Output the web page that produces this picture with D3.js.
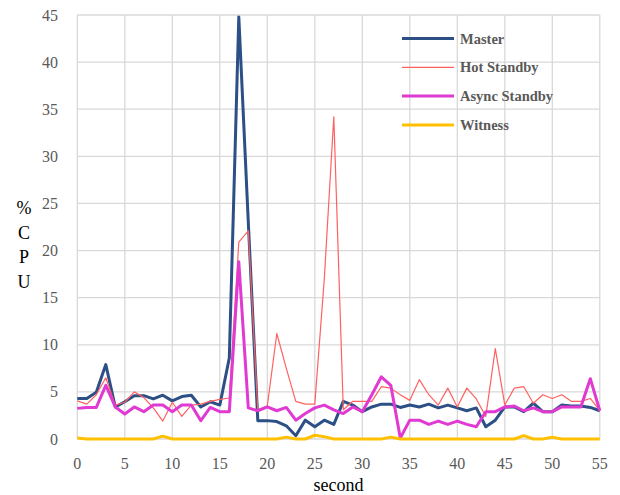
<html>
<head>
<meta charset="utf-8">
<script src="https://d3js.org/d3.v7.min.js"></script>
<style>
  body { margin: 0; background: #fff; }
  text { font-family: "Liberation Serif", "Times New Roman", serif; }
</style>
</head>
<body>
<svg id="chart" width="620" height="495"></svg>
<script>
// seconds 0..55
var seconds = d3.range(0, 56);
var xTicks = [0, 5, 10, 15, 20, 25, 30, 35, 40, 45, 50, 55];
var yTicks = [0, 5, 10, 15, 20, 25, 30, 35, 40, 45];

var master = [4.3, 4.3, 4.95, 7.9, 3.4, 3.95, 4.6, 4.6, 4.25, 4.65,
              4.05, 4.5, 4.65, 3.4, 3.95, 3.6, 8.6, 44.8, 23, 1.95,
              1.95, 1.85, 1.4, 0.35, 2.0, 1.3, 2.0, 1.55, 4.0, 3.6,
              2.9, 3.4, 3.7, 3.7, 3.35, 3.6, 3.4, 3.7, 3.3, 3.6,
              3.3, 3.0, 3.3, 1.3, 2.0, 3.4, 3.4, 2.9, 3.8, 2.9,
              2.9, 3.6, 3.5, 3.5, 3.35, 3.0];
var hotStandby = [4.05, 3.7, 4.7, 6.5, 3.6, 3.9, 5.0, 4.4, 3.3, 1.9,
                  3.9, 2.4, 3.6, 3.7, 4.0, 4.2, 4.35, 20.9, 22.1, 3.1,
                  3.5, 11.2, 7.5, 4.0, 3.7, 3.7, 17, 34.2, 3.1, 4.0,
                  4.0, 4.0, 5.55, 5.4, 4.7, 4.1, 6.3, 4.7, 3.6, 5.4,
                  3.4, 5.4, 4.25, 2.4, 9.6, 3.6, 5.4, 5.55, 3.8, 4.7,
                  4.3, 4.7, 4.0, 4.0, 4.3, 3.0];
var asyncStandby = [3.25, 3.35, 3.35, 5.7, 3.4, 2.65, 3.4, 2.9, 3.6, 3.6,
                    2.9, 3.6, 3.6, 1.95, 3.35, 2.9, 2.9, 18.8, 3.3, 3.0,
                    3.4, 3.0, 3.35, 2.0, 2.7, 3.3, 3.6, 3.1, 2.7, 3.4,
                    2.9, 4.7, 6.6, 5.7, 0.1, 2.0, 2.0, 1.55, 1.9, 1.55,
                    1.9, 1.55, 1.3, 2.9, 2.9, 3.4, 3.5, 3.0, 3.3, 2.9,
                    2.9, 3.4, 3.4, 3.4, 6.4, 3.0];
var witness = [0.1, 0, 0, 0, 0, 0, 0, 0, 0, 0.3,
               0, 0, 0, 0, 0, 0, 0, 0, 0, 0,
               0, 0, 0.2, 0, 0, 0.4, 0.25, 0, 0, 0,
               0, 0, 0, 0.2, 0, 0, 0, 0, 0, 0,
               0, 0, 0, 0, 0, 0, 0, 0.35, 0, 0,
               0.2, 0, 0, 0, 0, 0];

var seriesNames = ["Master", "Hot Standby", "Async Standby", "Witness"];
var seriesData = [master, hotStandby, asyncStandby, witness];
var seriesColors = ["#2c4f86", "#ff6161", "#e03ad2", "#ffc000"];
var seriesWidths = [3, 1.2, 3, 3];

function drawChart() {
    var svg = d3.select("#chart");
    var pl = 77.3, pr = 599.8, pt = 15, pb = 439;

    var x = d3.scaleLinear().domain([0, 55]).range([pl, pr]);
    var y = d3.scaleLinear().domain([0, 45]).range([pb, pt]);

    // grid
    svg.append("g").selectAll("line").data(yTicks).enter().append("line")
        .attr("x1", pl).attr("x2", pr)
        .attr("y1", d => y(d)).attr("y2", d => y(d))
        .attr("stroke", "#d9d9d9").attr("stroke-width", 1.3);
    svg.append("g").selectAll("line").data(xTicks).enter().append("line")
        .attr("x1", d => x(d)).attr("x2", d => x(d))
        .attr("y1", pt).attr("y2", pb)
        .attr("stroke", "#d9d9d9").attr("stroke-width", 1.3);

    // tick labels
    svg.append("g").selectAll("text").data(yTicks).enter().append("text")
        .attr("x", 58).attr("y", d => y(d) + 5.5)
        .attr("text-anchor", "end").attr("font-size", 16).attr("fill", "#595959")
        .text(d => d);
    svg.append("g").selectAll("text").data(xTicks).enter().append("text")
        .attr("x", d => x(d)).attr("y", 469)
        .attr("text-anchor", "middle").attr("font-size", 16).attr("fill", "#595959")
        .text(d => d);

    // axis titles
    svg.append("text").attr("x", (pl + pr) / 2).attr("y", 491)
        .attr("text-anchor", "middle").attr("font-size", 18).attr("fill", "#000")
        .text("second");
    svg.append("g").selectAll("text").data(["%", "C", "P", "U"]).enter().append("text")
        .attr("x", 24).attr("y", (d, i) => 214 + i * 24.5)
        .attr("text-anchor", "middle").attr("font-size", 18).attr("fill", "#000")
        .text(d => d);

    // lines
    var line = d3.line().x((d, i) => x(seconds[i])).y(d => y(d));
    seriesData.forEach(function(s, k) {
        svg.append("path").datum(s)
            .attr("fill", "none").attr("stroke", seriesColors[k])
            .attr("stroke-width", seriesWidths[k]).attr("stroke-linejoin", "round")
            .attr("d", line);
    });

    // legend
    var lg = svg.append("g");
    seriesNames.forEach(function(n, k) {
        var ly = 38.5 + k * 28.8;
        lg.append("line").attr("x1", 402).attr("x2", 454).attr("y1", ly).attr("y2", ly)
            .attr("stroke", seriesColors[k]).attr("stroke-width", seriesWidths[k]);
        lg.append("text").attr("x", 460).attr("y", ly + 5)
            .attr("font-size", 14.5).attr("font-weight", "bold").attr("fill", "#595959")
            .text(n);
    });
}
drawChart();
</script>
</body>
</html>
